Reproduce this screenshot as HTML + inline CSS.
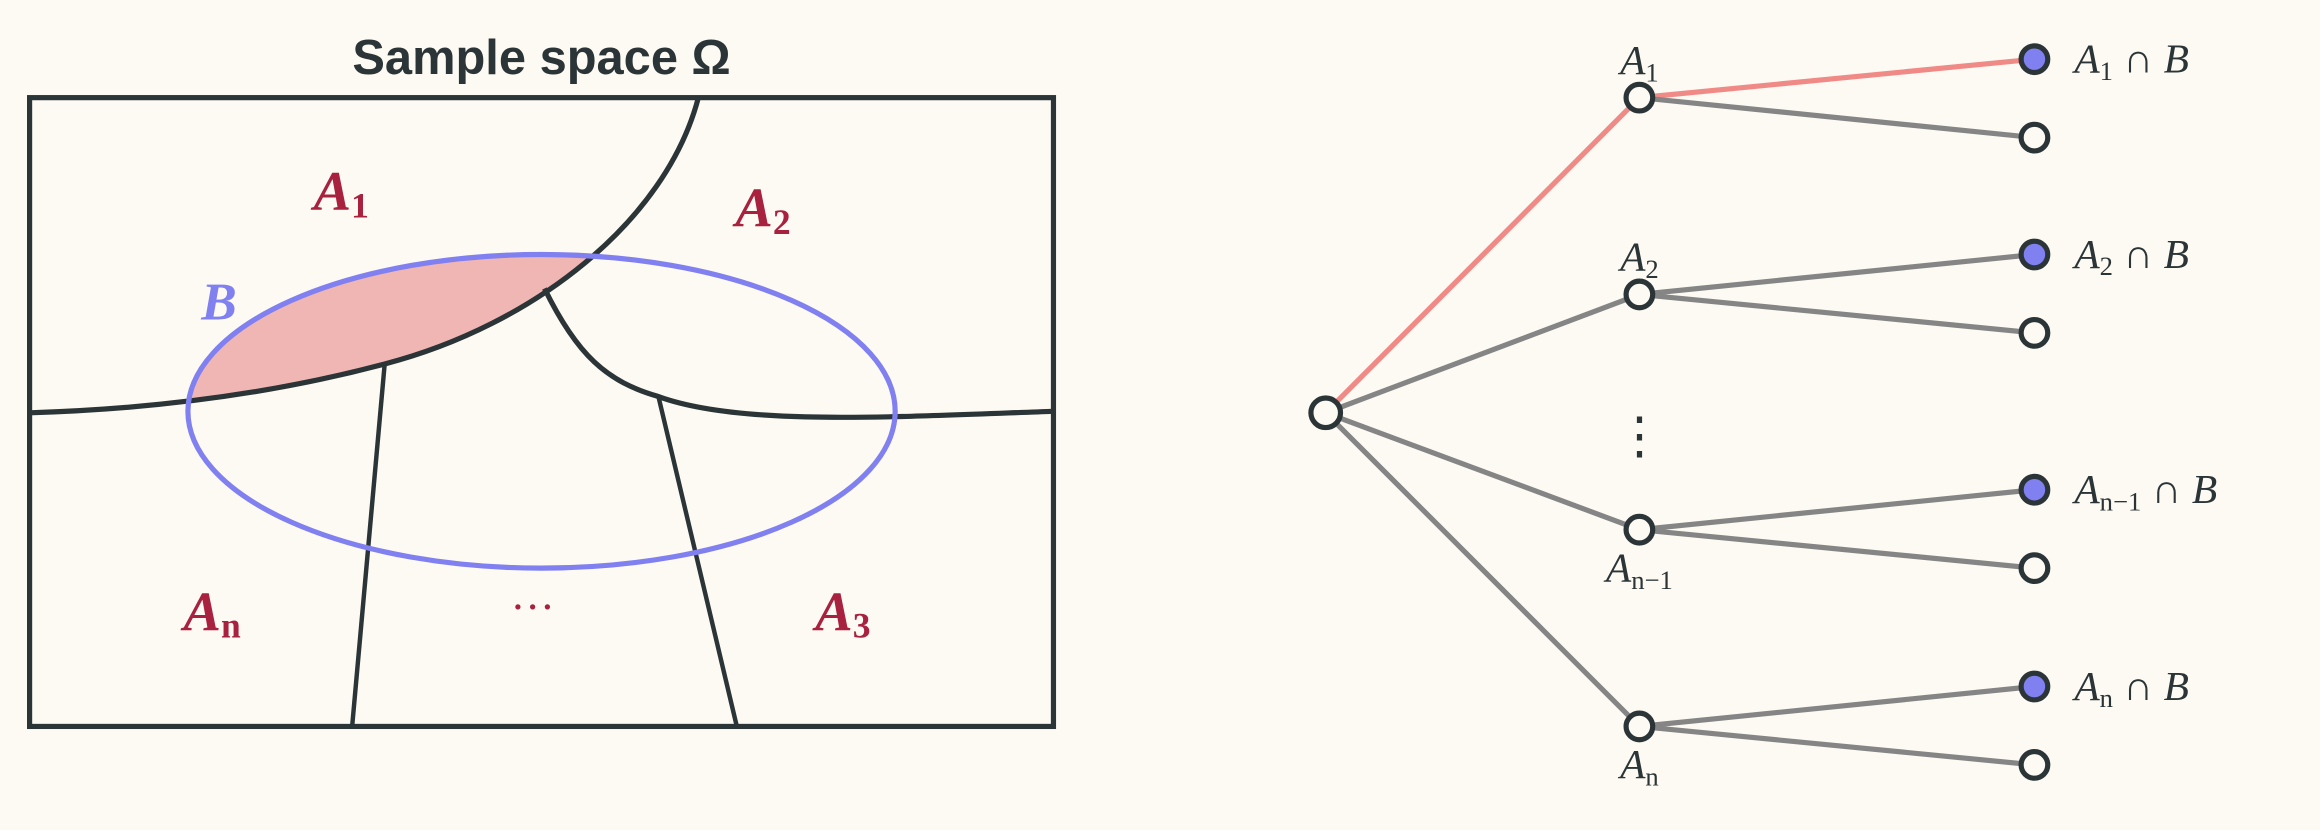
<!DOCTYPE html>
<html><head><meta charset="utf-8"><style>
html,body{margin:0;padding:0;background:#fcfaf2;}
svg{display:block}
.lab{font-family:"Liberation Serif",serif;font-style:italic;fill:#2b3436;font-size:28px}
.sub{font-size:18px;font-style:normal}
.reg{font-family:"Liberation Serif",serif;font-style:italic;font-weight:bold;fill:#a8213f;font-size:38px}
.rsub{font-size:24px;font-style:normal}
</style></head><body>
<svg id="fig" width="2320" height="830" viewBox="0 0 1568 561" preserveAspectRatio="none">
<defs>
<clipPath id="above"><path d="M20,279 C120,276 200,262 260,246 C360,220 450,150 472,66 L472,0 L0,0 Z"/></clipPath>
</defs>
<rect x="0" y="0" width="1568" height="561" fill="#fcfaf2"/>
<text x="366" y="50" text-anchor="middle" font-family="Liberation Sans,sans-serif" font-weight="bold" font-size="33" fill="#2b3436">Sample space Ω</text>
<g>
<ellipse cx="366" cy="278" rx="239" ry="106" fill="#f0b6b4" clip-path="url(#above)"/>
<rect x="20" y="66" width="692" height="425" fill="none" stroke="#2b3436" stroke-width="3.5"/>
<path d="M20,279 C120,276 200,262 260,246 C360,220 450,150 472,66" fill="none" stroke="#2b3436" stroke-width="3.5"/>
<path d="M368,195 C390,240 410,258 445,268 C500,288 600,282 712,278" fill="none" stroke="#2b3436" stroke-width="3.5"/>
<line x1="260" y1="246" x2="238" y2="491" stroke="#2b3436" stroke-width="3"/>
<line x1="445" y1="268" x2="498" y2="491" stroke="#2b3436" stroke-width="3"/>
<ellipse cx="366" cy="278" rx="239" ry="106" fill="none" stroke="#8080f0" stroke-width="3.5"/>
<text x="136" y="216" font-family="Liberation Serif,serif" font-style="italic" font-weight="bold" font-size="36" fill="#8080f0">B</text>
<text class="reg" x="212" y="142">A<tspan class="rsub" dy="5">1</tspan></text>
<text class="reg" x="497" y="153">A<tspan class="rsub" dy="5">2</tspan></text>
<text class="reg" x="124" y="426">A<tspan class="rsub" dy="5">n</tspan></text>
<text class="reg" x="551" y="426">A<tspan class="rsub" dy="5">3</tspan></text>
<text x="360" y="420" text-anchor="middle" font-family="Liberation Serif,serif" font-size="30" fill="#a8213f">···</text>
</g>
<g id="tree"></g>
</svg>
<script>
const branchNames = ["1","2","n−1","n"];
const branchY = [66,199,358,491];
const leafY = [[40,93],[172,225],[331,384],[464,517]];
const highlighted = [true,false,false,false];
const NS="http://www.w3.org/2000/svg";
const g=document.getElementById('tree');
const rootX=896, rootY=279, midX=1108, leafX=1375;
function mk(t,a){const e=document.createElementNS(NS,t);for(const k in a)e.setAttribute(k,a[k]);return e;}
const lines=[], circles=[];
branchNames.forEach((nm,i)=>{
  const by=branchY[i];
  const l=mk('line',{x1:rootX,y1:rootY,x2:midX,y2:by,stroke:highlighted[i]?'#f08a86':'#858585','stroke-width':3.5});
  
  
  lines.push(l);
  leafY[i].forEach((ly,j)=>{
    const e=mk('line',{x1:midX,y1:by,x2:leafX,y2:ly,stroke:(highlighted[i]&&j==0)?'#f08a86':'#858585','stroke-width':3.5});
    
    
    lines.push(e);
    const c=mk('circle',{cx:leafX,cy:ly,r:9,fill:j==0?'#8080f0':'#fcfaf2',stroke:'#2b3436','stroke-width':3.5});
    
    
    circles.push(c);
    if(j==0){
      const t=mk('text',{x:leafX+27,y:ly+9,class:'lab'});
      t.innerHTML='A<tspan class="sub" dy="5">'+nm+'</tspan><tspan dy="-5" font-style="normal"> ∩ </tspan><tspan>B</tspan>';
      
      
      circles.push(t);
    }
  });
  const c=mk('circle',{cx:midX,cy:by,r:9,fill:'#fcfaf2',stroke:'#2b3436','stroke-width':3.5});
  
  
  circles.push(c);
  const below=i>=2;
  const t=mk('text',{x:midX,y:below?by+35:by-16,class:'lab','text-anchor':'middle'});
  t.innerHTML='A<tspan class="sub" dy="5">'+nm+'</tspan>';
  
  
  circles.push(t);
});
lines.forEach(e=>g.appendChild(e));
circles.forEach(e=>g.appendChild(e));
const r=mk('circle',{cx:rootX,cy:rootY,r:10,fill:'#fcfaf2',stroke:'#2b3436','stroke-width':3.5});


g.appendChild(r);
const d=mk('text',{x:midX,y:306,'text-anchor':'middle','font-family':'Liberation Serif,serif','font-size':'34',fill:'#2b3436'});
d.textContent='⋮';


g.appendChild(d);
</script>
</body></html>
